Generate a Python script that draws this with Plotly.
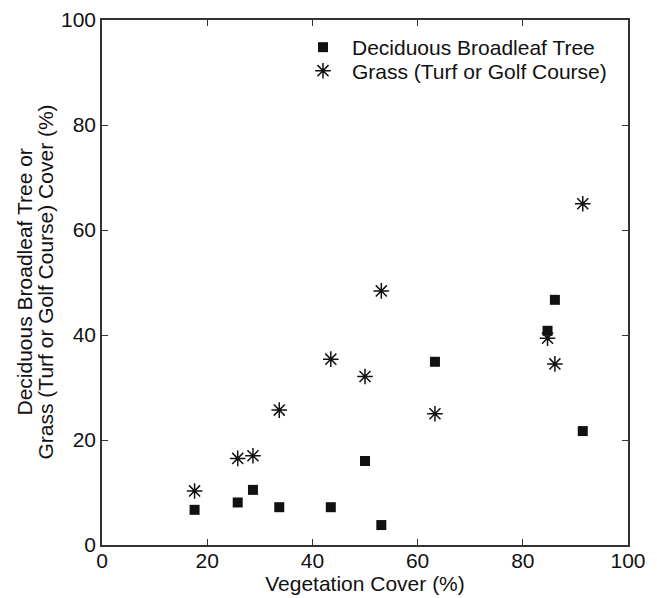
import plotly.graph_objects as go

tree_x = [17.6, 25.8, 28.7, 33.7, 43.5, 50.0, 53.1, 63.3, 84.7, 86.1, 91.4]
tree_y = [6.7, 8.1, 10.5, 7.2, 7.2, 16.0, 3.8, 34.9, 40.8, 46.7, 21.7]

grass_x = [17.6, 25.8, 28.7, 33.7, 43.5, 50.0, 53.1, 63.3, 84.7, 86.1, 91.4]
grass_y = [10.3, 16.5, 17.0, 25.7, 35.4, 32.1, 48.4, 25.0, 39.4, 34.5, 65.0]

x_ticks = [0, 20, 40, 60, 80, 100]
y_ticks = [0, 20, 40, 60, 80, 100]

x_title = "Vegetation Cover (%)"
y_title_lines = ["Deciduous Broadleaf Tree or", "Grass (Turf or Golf Course) Cover (%)"]

FONT = "Liberation Sans, Arial, Helvetica, sans-serif"
INK = "#111111"
FS = 21

fig = go.Figure()
fig.add_trace(go.Scatter(
    x=tree_x, y=tree_y, mode="markers", name="Deciduous Broadleaf Tree", legend="legend",
    marker=dict(symbol="square", size=10, color=INK, line=dict(width=0)),
))
fig.add_trace(go.Scatter(
    x=grass_x, y=grass_y, mode="markers", name="Grass (Turf or Golf Course)", legend="legend2",
    marker=dict(symbol="asterisk-open", size=13, color=INK, line=dict(width=1.5, color=INK)),
))

axis_common = dict(
    showgrid=False, zeroline=False, showline=True, linecolor="#333333", linewidth=1.5,
    mirror="ticks", ticks="inside", ticklen=6, tickwidth=1.2, tickcolor="#333333",
    tickfont=dict(family=FONT, size=FS, color=INK), automargin=False,
)

legend_common = dict(xanchor="left", yanchor="middle", bgcolor="rgba(0,0,0,0)",
                     font=dict(family=FONT, size=FS, color=INK), itemwidth=48,
                     itemsizing="trace")

fig.update_layout(
    width=649, height=590,
    margin=dict(l=94, r=29, t=12, b=53, autoexpand=False),
    paper_bgcolor="white", plot_bgcolor="white",
    font=dict(family=FONT, size=FS, color=INK),
    showlegend=True,
    legend=dict(x=0.365, y=0.9476, **legend_common),
    legend2=dict(x=0.365, y=0.9028, **legend_common),
    xaxis=dict(range=[0, 100], tickvals=x_ticks, ticklabelstandoff=-4,
               title=dict(text=x_title, standoff=4, font=dict(family=FONT, size=FS, color=INK)),
               **axis_common),
    yaxis=dict(range=[0, 100], tickvals=y_ticks, **axis_common),
)

for line, shift in zip(y_title_lines, [-78, -57]):
    fig.add_annotation(
        text=line, xref="paper", yref="paper", x=0, y=0.5, xanchor="center", yanchor="middle",
        xshift=shift, textangle=-90, showarrow=False,
        font=dict(family=FONT, size=FS, color=INK),
    )

fig.write_html("out.html")
